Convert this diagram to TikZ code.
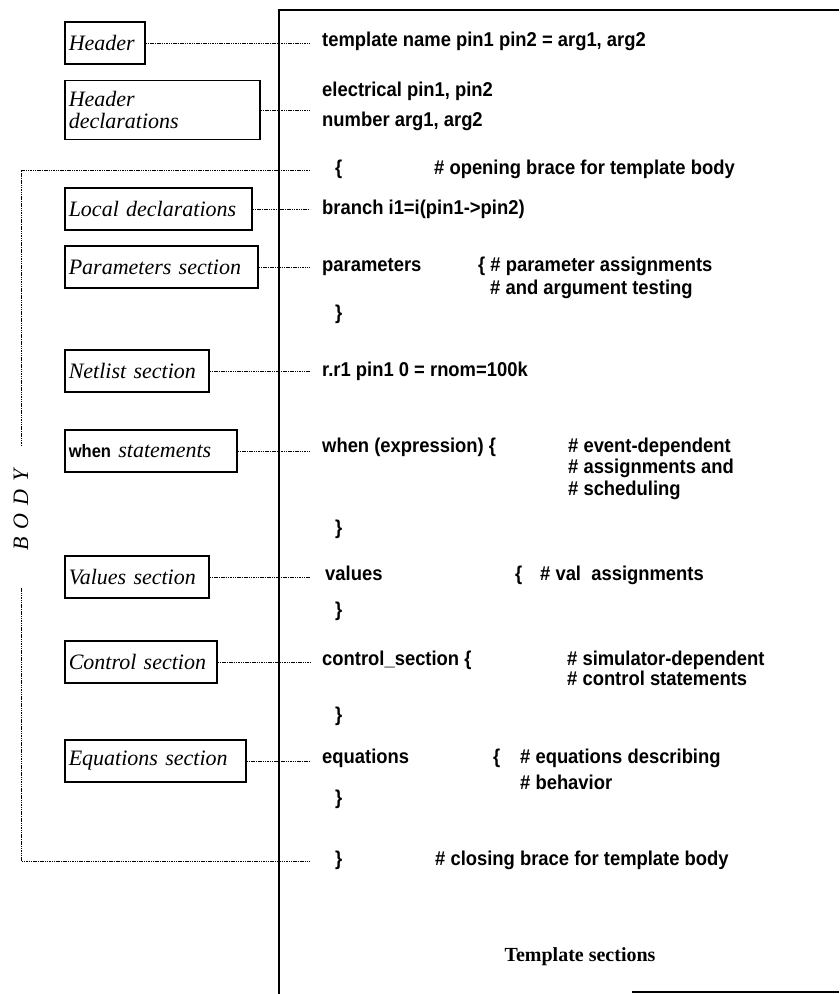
\documentclass[tikz,border=0pt]{standalone}
\usepackage{fontspec}
\setmainfont{Liberation Serif}
\newfontfamily\tplcode[FakeStretch=0.92]{Liberation Sans}
\usetikzlibrary{positioning}

\tikzset{
  code/.style={anchor=west, inner sep=0pt, text height=14pt, text depth=4.5pt,
    font=\tplcode\bfseries\fontsize{20}{24}\selectfont},
  secbox/.style={draw, line width=1.5pt, anchor=west, inner xsep=4pt, inner ysep=0pt,
    minimum height=42pt, text width=#1, align=left,
    font=\itshape\fontsize{22}{22}\selectfont},
  link/.style={line width=1pt, dash pattern=on 1.5pt off 0.8pt},
  frame/.style={line width=1.6pt}
}

\begin{document}
\begin{tikzpicture}[x=1pt,y=-1pt]
\useasboundingbox (0,0) rectangle (839,994);

% template frame
\draw[frame] (279,994) -- (279,10) -- (839,10);
\draw[frame] (632,992) -- (839,992);
\coordinate (cx) at (310,0);

% code column
\node[code] (tpl) at (322,42) {template name pin1 pin2 = arg1, arg2};
\node[code] (elec) at (322,92) {electrical pin1, pin2};
\node[code] (num) at (322,122) {number arg1, arg2};
\node[code] (obr) at (335,170) {\{};
\node[code] (obrc) at (434,170) {\# opening brace for template body};
\node[code] (brn) at (322,210) {branch i1=i(pin1->pin2)};
\node[code] (par) at (322,267) {parameters};
\node[code] (parc) at (478,267) {\{ \# parameter assignments};
\node[code] (parc2) at (490,290) {\# and argument testing};
\node[code] (parx) at (335,315) {\}};
\node[code] (net) at (322,372) {r.r1 pin1 0 = rnom=100k};
\node[code] (whn) at (322,448) {when (expression) \{};
\node[code] (whnc1) at (568,448) {\# event-dependent};
\node[code] (whnc2) at (568,469) {\# assignments and};
\node[code] (whnc3) at (568,491) {\# scheduling};
\node[code] (whnx) at (335,530) {\}};
\node[code] (val) at (325,576) {values};
\node[code] (valb) at (515,576) {\{};
\node[code] (valc) at (540,576) {\# val\ \ assignments};
\node[code] (valx) at (335,612) {\}};
\node[code] (ctl) at (322,661) {control\_section \{};
\node[code] (ctlc1) at (567,661) {\# simulator-dependent};
\node[code] (ctlc2) at (567,681) {\# control statements};
\node[code] (ctlx) at (335,717) {\}};
\node[code] (eqn) at (322,759) {equations};
\node[code] (eqnb) at (493,759) {\{};
\node[code] (eqnc1) at (520,759) {\# equations describing};
\node[code] (eqnc2) at (520,785) {\# behavior};
\node[code] (eqnx) at (335,800) {\}};
\node[code] (cbr) at (335,861) {\}};
\node[code] (cbrc) at (435,861) {\# closing brace for template body};

% section boxes
\node[secbox=72] (hdr) at (64,43) {Header};
\node[secbox=187, minimum height=59pt] (hdec) at (64,110) {Header\\declarations};
\node[secbox=179] (ldec) at (64,209) {Local declarations};
\node[secbox=185] (psec) at (64,267) {Parameters section};
\node[secbox=136] (nsec) at (64,371) {Netlist section};
\node[secbox=164] (wsec) at (64,451) {{\tplcode\upshape\bfseries\fontsize{18}{20}\selectfont when} statements};
\node[secbox=136] (vsec) at (64,577) {Values section};
\node[secbox=144] (csec) at (64,662) {Control section};
\node[secbox=173] (esec) at (64,761) {Equations section};

\foreach \b in {hdr,hdec,ldec,psec,nsec,wsec,vsec,csec,esec}
  \draw[link] (\b.east) -- (\b.east -| cx);

% body bracket
\coordinate (btop) at (21,170);
\coordinate (bbot) at (21,861);
\node[rotate=90, font=\itshape\fontsize{22}{22}\selectfont] (body) at (21,510)
  {B\hspace{8pt}O\hspace{8pt}D\hspace{8pt}Y};
\draw[link] (obr.west -| cx) -- (btop) -- (21,445);
\draw[link] (21,588) -- (bbot) -- (cbr.west -| cx);

\node[font=\bfseries\fontsize{20}{24}\selectfont] (cap) at (580,957) {Template sections};
\end{tikzpicture}
\end{document}
